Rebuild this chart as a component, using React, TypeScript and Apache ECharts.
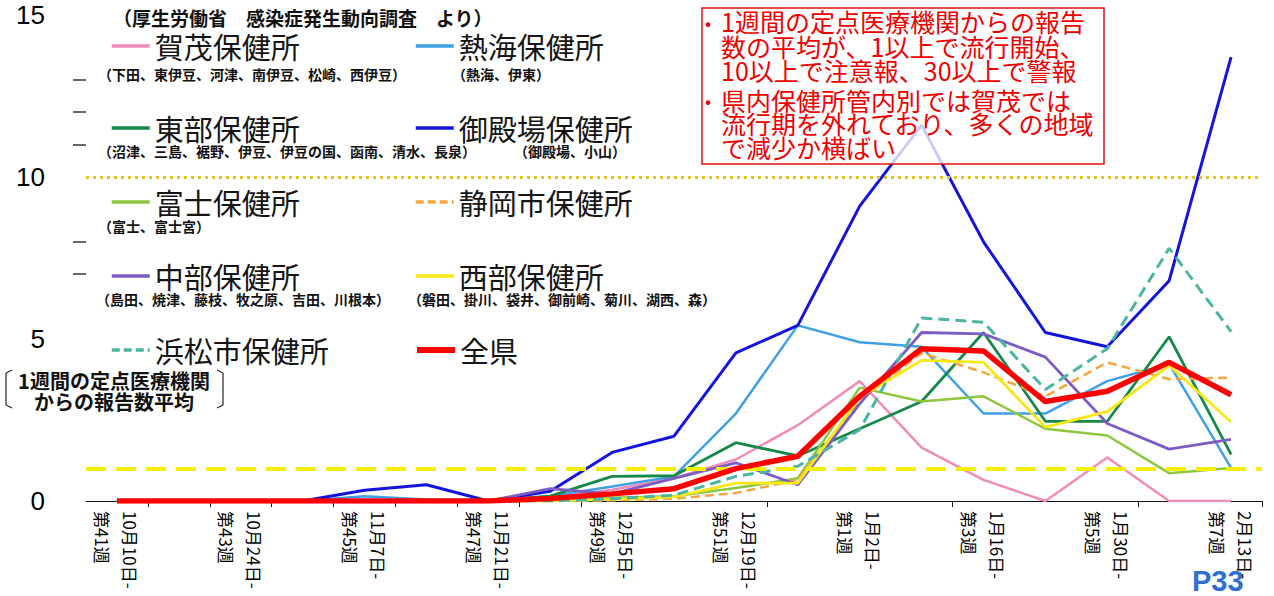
import React, { useEffect, useRef } from 'react';
import * as echarts from 'echarts';

// ---- categories ----
const weeks = ['第41週','第42週','第43週','第44週','第45週','第46週','第47週','第48週','第49週','第50週','第51週','第52週','第1週','第2週','第3週','第4週','第5週','第6週','第7週'];
const weekStarts = ['10月10日-','10月17日-','10月24日-','10月31日-','11月7日-','11月14日-','11月21日-','11月28日-','12月5日-','12月12日-','12月19日-','12月26日-','1月2日-','1月9日-','1月16日-','1月23日-','1月30日-','2月6日-','2月13日-'];

// ---- series values (報告数平均) ----
const kamo      = [0,0,0,0,0,0,0,0.1,0.35,0.7,1.28,2.34,3.7,1.65,0.65,0,1.34,0,0];
const atami     = [0,0,0,0,0.15,0.05,0,0.15,0.45,0.76,2.7,5.42,4.9,4.76,2.7,2.7,3.7,4.23,1.02];
const tobu      = [0,0,0,0,0,0,0,0.15,0.76,0.78,1.8,1.39,2.23,3.07,5.2,2.46,2.46,5.07,1.44];
const gotemba   = [0,0,0,0,0.33,0.5,0,0.3,1.5,2.0,4.57,5.42,9.1,11.6,8.0,5.2,4.76,6.8,13.7];
const fuji      = [0,0,0,0,0,0,0,0.05,0.1,0.15,0.4,0.7,3.5,3.07,3.23,2.23,2.02,0.86,1.02];
const shizuoka  = [0,0,0,0,0,0,0,0,0.02,0.07,0.25,0.65,3.1,4.57,3.97,3.23,4.28,3.76,3.81];
const chubu     = [0,0,0,0,0,0,0,0.38,0.22,0.7,1.18,0.5,3.0,5.2,5.16,4.44,2.39,1.6,1.9];
const seibu     = [0,0,0,0,0,0,0,0,0.05,0.13,0.55,0.55,3.2,4.34,4.28,2.28,2.76,4.18,2.44];
const hamamatsu = [0,0,0,0,0,0,0,0,0.07,0.18,0.76,1.07,2.2,5.65,5.52,3.44,4.7,7.8,5.23];
const zenken    = [0,0,0,0,0,0,0,0.08,0.22,0.38,1.0,1.38,3.23,4.7,4.63,3.07,3.39,4.28,3.28];

const seriesNames = ['賀茂保健所','熱海保健所','東部保健所','御殿場保健所','富士保健所','静岡市保健所','中部保健所','西部保健所','浜松市保健所','全県'];
const seriesValues = [kamo, atami, tobu, gotemba, fuji, shizuoka, chubu, seibu, hamamatsu, zenken];
const subLabels = [
  '（下田、東伊豆、河津、南伊豆、松崎、西伊豆）', '（熱海、伊東）',
  '（沼津、三島、裾野、伊豆、伊豆の国、函南、清水、長泉）', '（御殿場、小山）',
  '（富士、富士宮）', '',
  '（島田、焼津、藤枝、牧之原、吉田、川根本）', '（磐田、掛川、袋井、御前崎、菊川、湖西、森）',
  '', '',
];
const thresholds = [1, 10];
const yLabelValues = [0, 5, 10, 15];
const yTickValues = [7, 8, 11, 12, 13];
const visibleTickIndexes = [1, 2, 3, 4, 5, 6, 7, 8, 11, 14, 17];
const noteText = '1週間の定点医療機関\nからの報告数平均';
const boxText1 = '1週間の定点医療機関からの報告\n数の平均が、1以上で流行開始、\n10以上で注意報、30以上で警報';
const boxText2 = '県内保健所管内別では賀茂では\n流行期を外れており、多くの地域\nで減少か横ばい';
const sourceText = '（厚生労働省　感染症発生動向調査　より）';

// ---- styles ----
const seriesStyles = [
  { color: '#f08cb8', width: 2.5, type: 'solid' },
  { color: '#3fa0e6', width: 2.5, type: 'solid' },
  { color: '#15884a', width: 2.8, type: 'solid' },
  { color: '#1414dc', width: 3, type: 'solid' },
  { color: '#8dc63f', width: 2.5, type: 'solid' },
  { color: '#f4a640', width: 2.5, type: [9, 5] },
  { color: '#7b5cc4', width: 2.8, type: 'solid' },
  { color: '#f7e815', width: 2.8, type: 'solid' },
  { color: '#4db3a3', width: 3, type: [11, 6] },
  { color: '#ff0000', width: 5.5, type: 'solid' },
];
const legendLefts = [110, 414];
const legendRowCenters = [46, 128, 202, 276, 350];
const subLabelPos = [
  [98, 74], [452, 74], [98, 151], [514, 151], [98, 226], [0, 0], [96, 299], [408, 299], [0, 0], [0, 0],
];
const CJK = '"Noto Sans CJK JP", "Noto Sans", sans-serif';

function buildOption() {
  const series: any[] = seriesNames.map((name, i) => {
    const s: any = {
      name,
      type: 'line',
      data: seriesValues[i],
      symbol: 'none',
      showSymbol: false,
      z: i === 9 ? 5 : 2,
      lineStyle: { color: seriesStyles[i].color, width: seriesStyles[i].width, type: seriesStyles[i].type },
      itemStyle: { color: seriesStyles[i].color },
      emphasis: { disabled: true },
    };
    if (i === 9) {
      s.markLine = {
        silent: true,
        symbol: ['none', 'none'],
        label: { show: false },
        emphasis: { disabled: true },
        data: [
          { yAxis: thresholds[1], lineStyle: { color: '#e6c21c', type: [3, 4], width: 3 } },
          { yAxis: thresholds[0], lineStyle: { color: '#f4ee00', type: [20, 10], width: 4 } },
        ],
      };
    }
    return s;
  });

  const legends = seriesNames.map((name, i) => ({
    data: [name],
    left: legendLefts[i % 2],
    top: legendRowCenters[Math.floor(i / 2)] - 15,
    padding: 0,
    itemWidth: 38,
    itemHeight: 14,
    itemGap: 4,
    selectedMode: false,
    itemStyle: { opacity: 0 },
    lineStyle: {
      width: i === 9 ? 6 : 3.5,
      color: seriesStyles[i].color,
      type: seriesStyles[i].type === 'solid' ? 'solid' : [8, 4],
    },
    textStyle: { fontFamily: CJK, fontSize: 29, lineHeight: 30, color: '#151515' },
  }));

  const graphics: any[] = [
    {
      type: 'text', left: 113, top: 8, z: 10,
      style: { text: sourceText, font: `bold 19px ${CJK}`, fill: '#111' },
    },
  ];
  subLabels.forEach((t, i) => {
    if (!t) return;
    graphics.push({
      type: 'text', x: subLabelPos[i][0], y: subLabelPos[i][1], z: 10,
      style: { text: t, font: `bold 14px ${CJK}`, fill: '#111', verticalAlign: 'middle' },
    });
  });
  const boxFont = `25px ${CJK}`;
  graphics.push(
    {
      type: 'text', x: 114, y: 370, z: 10,
      style: { text: noteText, font: `bold 20px ${CJK}`, lineHeight: 21, fill: '#111', align: 'center' },
    },
    { type: 'polyline', z: 10, shape: { points: [[12, 370], [6, 373], [6, 405], [12, 408]] }, style: { stroke: '#222', lineWidth: 1.2, fill: null } },
    { type: 'polyline', z: 10, shape: { points: [[217, 370], [223, 373], [223, 405], [217, 408]] }, style: { stroke: '#222', lineWidth: 1.2, fill: null } },
    {
      type: 'rect', z: 10, shape: { x: 702, y: 8, width: 402, height: 156 },
      style: { fill: 'rgba(255,255,255,0.78)', stroke: '#e01010', lineWidth: 1.5 },
    },
    { type: 'text', x: 705, y: 13, z: 11, style: { text: '•', font: `18px ${CJK}`, fill: '#ee0000' } },
    { type: 'text', x: 721, y: 9, z: 11, style: { text: boxText1, font: boxFont, fill: '#ee0000', lineHeight: 24.5 } },
    { type: 'text', x: 705, y: 91, z: 11, style: { text: '•', font: `18px ${CJK}`, fill: '#ee0000' } },
    { type: 'text', x: 721, y: 88, z: 11, style: { text: boxText2, font: boxFont, fill: '#ee0000', lineHeight: 23.5 } },
    {
      type: 'text', x: 1192, y: 566, z: 10,
      style: { text: 'P33', font: 'bold 29px "Liberation Sans", Arial, sans-serif', fill: '#2f6fd0' },
    },
  );

  return {
    animation: false,
    backgroundColor: '#ffffff',
    grid: { left: 86, right: 12, top: 15, bottom: 95, containLabel: false, outerBoundsMode: 'none' },
    legend: legends,
    tooltip: { show: false },
    xAxis: {
      type: 'category',
      data: weeks,
      boundaryGap: true,
      axisLine: { show: true, lineStyle: { color: '#111', width: 1 } },
      axisTick: {
        show: true,
        length: 6,
        lineStyle: { color: '#111' },
        interval: (index: number) => visibleTickIndexes.includes(index),
      },
      axisLabel: {
        interval: 1,
        rotate: -90,
        margin: 10,
        fontFamily: CJK,
        fontSize: 17,
        lineHeight: 28,
        color: '#000',
        hideOverlap: false,
        formatter: (value: string, index: number) => `${weekStarts[index]}\n${value}`,
      },
      splitLine: { show: false },
    },
    yAxis: {
      type: 'value',
      min: 0,
      max: 15,
      interval: 5,
      axisLine: { show: false },
      axisTick: { show: true, length: 13, lineStyle: { color: '#333', width: 1.5 }, customValues: yTickValues },
      axisLabel: {
        customValues: yLabelValues,
        margin: 41,
        fontFamily: '"Liberation Sans", Arial, sans-serif',
        fontSize: 26,
        color: '#000',
      },
      splitLine: { show: false },
    },
    graphic: graphics,
    series,
  };
}

export default function App() {
  const ref = useRef<HTMLDivElement>(null);
  useEffect(() => {
    if (!ref.current) return;
    const chart = echarts.init(ref.current, undefined, { renderer: 'svg' });
    chart.setOption(buildOption() as any);
    return () => chart.dispose();
  }, []);
  return (
    <div
      ref={ref}
      style={{ position: 'absolute', left: 0, top: 0, width: 1274, height: 596, background: '#fff' }}
    />
  );
}
